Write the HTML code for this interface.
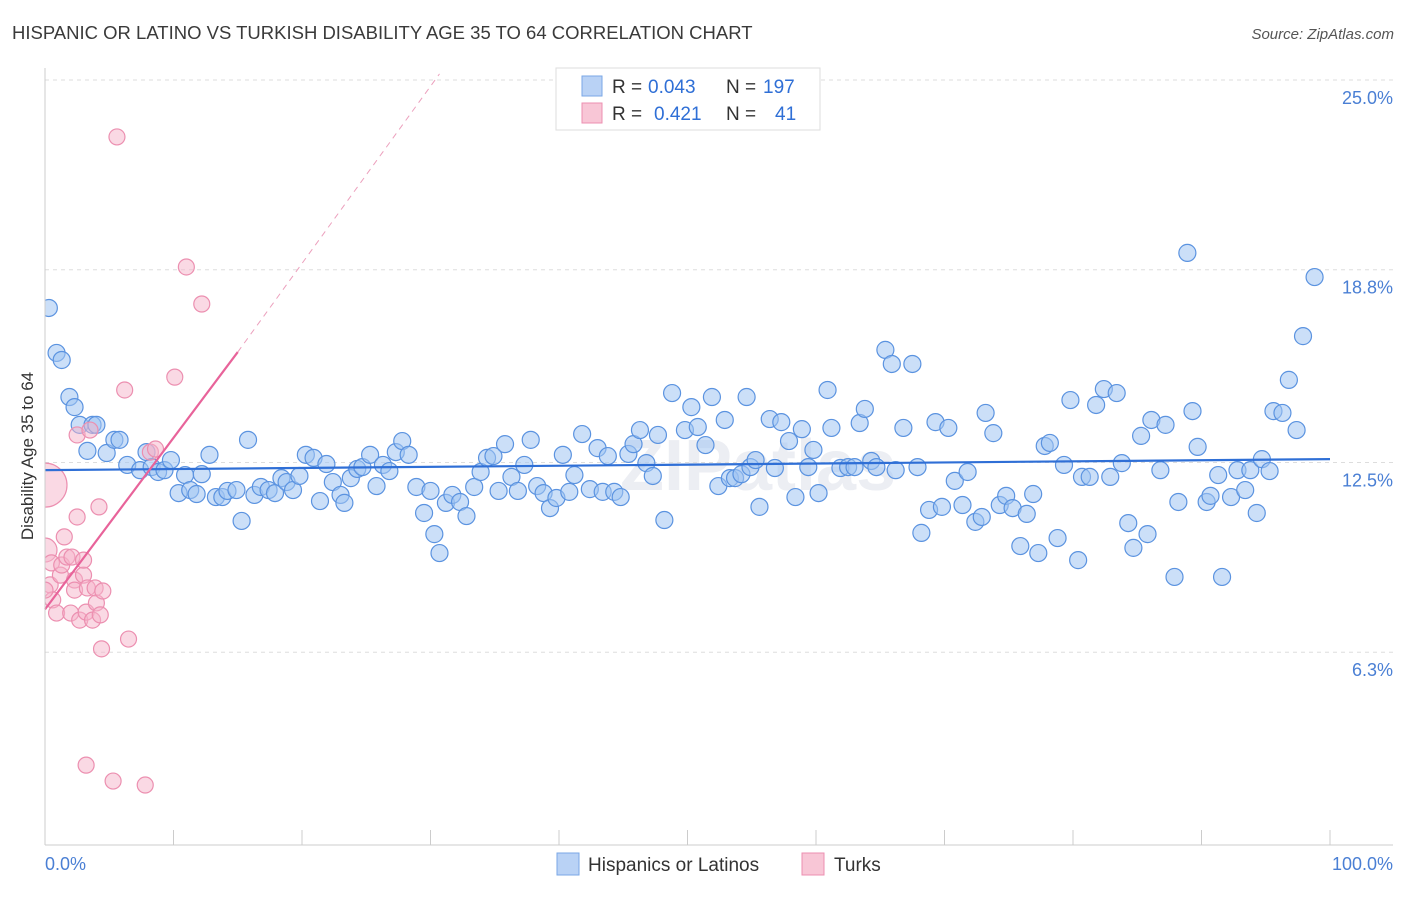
<!DOCTYPE html>
<html><head><meta charset="utf-8"><style>
body{margin:0;background:#fff;font-family:"Liberation Sans",sans-serif;}
svg text{font-family:"Liberation Sans",sans-serif;}
</style></head><body>
<svg id="c" width="1406" height="892" xmlns="http://www.w3.org/2000/svg">
<defs><clipPath id="plot"><rect x="45" y="60" width="1360" height="785"/></clipPath></defs>
<text x="12" y="39" font-size="18.5" fill="#3a3a3a">HISPANIC OR LATINO VS TURKISH DISABILITY AGE 35 TO 64 CORRELATION CHART</text>
<text x="1394" y="39" font-size="15" fill="#555" text-anchor="end" font-style="italic">Source: ZipAtlas.com</text>
<text x="620" y="490" font-size="72" fill="#eceef3" font-weight="bold">ZIPatlas</text>
<g id="grid"></g><g id="pts" clip-path="url(#plot)"></g><g id="trend"></g>
<line x1="45" y1="68" x2="45" y2="845" stroke="#ccc"/>
<line x1="45" y1="845" x2="1393" y2="845" stroke="#ccc"/>
<text transform="translate(33,456) rotate(-90)" font-size="17" fill="#333" text-anchor="middle">Disability Age 35 to 64</text>
<text x="45" y="870" font-size="18" fill="#4a7fd4">0.0%</text>
<text x="1393" y="870" font-size="18" fill="#4a7fd4" text-anchor="end">100.0%</text>
<g font-size="19">
<rect x="556" y="68" width="264" height="62" fill="#fff" stroke="#ddd"/>
<rect x="582" y="76" width="20" height="20" fill="#b9d2f5" stroke="#7aa7e6"/>
<rect x="582" y="103" width="20" height="20" fill="#f8c6d6" stroke="#ec8fb0"/>
<text x="612" y="93" fill="#333">R =</text>
<text x="648" y="93" fill="#2f6fd6">0.043</text>
<text x="726" y="93" fill="#333">N =</text>
<text x="763" y="93" fill="#2f6fd6">197</text>
<text x="612" y="120" fill="#333">R =</text>
<text x="654" y="120" fill="#2f6fd6">0.421</text>
<text x="726" y="120" fill="#333">N =</text>
<text x="775" y="120" fill="#2f6fd6">41</text>
</g>
<g>
<rect x="557" y="853" width="22" height="22" fill="#b9d2f5" stroke="#7aa7e6"/>
<text x="588" y="871" font-size="19" fill="#333">Hispanics or Latinos</text>
<rect x="802" y="853" width="22" height="22" fill="#f8c6d6" stroke="#ec8fb0"/>
<text x="834" y="871" font-size="19" fill="#333">Turks</text>
</g>
</svg>
<script>
const yTicks=[25.0,18.8,12.5,6.3];
const yTickLabels=["25.0%","18.8%","12.5%","6.3%"];
const xTicks=[0,10,20,30,40,50,60,70,80,90,100];
const blueX=[0.3,0.9,1.3,1.9,2.3,2.7,3.3,3.7,4.0,4.8,5.4,5.8,6.4,7.4,7.9,8.3,8.8,9.3,9.8,10.4,10.9,11.3,11.8,12.2,12.8,13.3,13.8,14.2,14.9,15.3,15.8,16.3,16.8,17.4,17.9,18.4,18.8,19.3,19.8,20.3,20.9,21.4,21.9,22.4,23.0,23.3,23.8,24.3,24.7,25.3,25.8,26.3,26.8,27.3,27.8,28.3,28.9,29.5,30.0,30.3,30.7,31.2,31.7,32.3,32.8,33.4,33.9,34.4,34.9,35.3,35.8,36.3,36.8,37.3,37.8,38.3,38.8,39.3,39.8,40.3,40.8,41.2,41.8,42.4,43.0,43.4,43.8,44.3,44.8,45.4,45.8,46.3,46.8,47.3,47.7,48.2,48.8,49.8,50.3,50.8,51.4,51.9,52.4,52.9,53.3,53.7,54.2,54.6,54.9,55.3,55.6,56.4,56.8,57.3,57.9,58.4,58.9,59.4,59.8,60.2,60.9,61.2,61.9,62.5,63.0,63.4,63.8,64.3,64.7,65.4,65.9,66.2,66.8,67.5,67.9,68.2,68.8,69.3,69.8,70.3,70.8,71.4,71.8,72.4,72.9,73.2,73.8,74.3,74.8,75.3,75.9,76.4,76.9,77.3,77.8,78.2,78.8,79.3,79.8,80.4,80.7,81.3,81.8,82.4,82.9,83.4,83.8,84.3,84.7,85.3,85.8,86.1,86.8,87.2,87.9,88.2,88.9,89.3,89.7,90.4,90.7,91.3,91.6,92.3,92.8,93.4,93.8,94.3,94.7,95.3,95.6,96.3,96.8,97.4,97.9,98.8];
const blueY=[17.55,16.08,15.85,14.64,14.31,13.73,12.88,13.73,13.73,12.81,13.24,13.24,12.42,12.25,12.84,12.35,12.19,12.25,12.58,11.5,12.09,11.6,11.47,12.12,12.75,11.37,11.37,11.57,11.6,10.59,13.24,11.44,11.7,11.6,11.5,11.99,11.86,11.6,12.06,12.75,12.65,11.24,12.45,11.86,11.44,11.18,11.99,12.29,12.35,12.75,11.73,12.42,12.22,12.84,13.2,12.75,11.7,10.85,11.57,10.16,9.54,11.18,11.44,11.21,10.75,11.7,12.19,12.65,12.71,11.57,13.1,12.03,11.57,12.42,13.24,11.73,11.5,11.01,11.34,12.75,11.54,12.09,13.43,11.63,12.97,11.54,12.71,11.54,11.37,12.78,13.1,13.56,12.48,12.06,13.4,10.62,14.77,13.56,14.31,13.66,13.07,14.64,11.73,13.89,11.99,11.99,12.12,14.64,12.35,12.58,11.05,13.92,12.32,13.82,13.2,11.37,13.59,12.35,12.91,11.5,14.87,13.63,12.32,12.35,12.35,13.79,14.25,12.55,12.35,16.18,15.72,12.25,13.63,15.72,12.35,10.2,10.95,13.82,11.05,13.63,11.9,11.11,12.19,10.56,10.72,14.12,13.46,11.11,11.41,11.01,9.77,10.82,11.47,9.54,13.04,13.14,10.03,12.42,14.54,9.31,12.03,12.03,14.38,14.9,12.03,14.77,12.48,10.52,9.71,13.37,10.16,13.89,12.25,13.73,8.76,11.21,19.35,14.18,13.01,11.21,11.41,12.09,8.76,11.37,12.25,11.6,12.25,10.85,12.61,12.22,14.18,14.12,15.2,13.56,16.63,18.56];
const pinkX=[0.0,0.0,0.5,0.4,0.6,0.9,1.2,1.3,1.5,1.7,2.0,2.1,2.3,2.3,2.5,2.5,2.7,3.0,3.0,3.2,3.3,3.5,3.7,3.9,4.0,4.2,4.3,4.4,4.5,5.6,6.2,6.5,8.2,8.6,10.1,11.0,12.2,3.2,5.3,7.8,0.0];
const pinkY=[11.76,9.64,9.22,8.5,8.01,7.58,8.82,9.15,10.07,9.41,7.58,9.41,8.66,8.33,10.72,13.4,7.35,8.82,9.31,7.61,8.4,13.56,7.35,8.4,7.91,11.05,7.52,6.41,8.3,23.14,14.87,6.73,12.84,12.94,15.29,18.89,17.68,2.61,2.09,1.96,8.33];
const pinkR=[22,12,8,8,8,8,8,8,8,8,8,8,8,8,8,8,8,8,8,8,8,8,8,8,8,8,8,8,8,8,8,8,8,8,8,8,8,8,8,8,8];
const blueTrend=[12.25,12.61];
const pinkTrend=[7.7,16.11,25.2];
const pinkTrendX=[0,15.0,30.7];
const NS="http://www.w3.org/2000/svg";
const xs=v=>45+v*12.85, ys=v=>845-v*30.6;
function mk(t,a,p){const e=document.createElementNS(NS,t);for(const k in a)e.setAttribute(k,a[k]);p.appendChild(e);return e;}
const g=document.getElementById('grid');
yTicks.forEach((t,i)=>{
 const l=mk('line',{x1:45,x2:1393,y1:ys(t),y2:ys(t),stroke:'#ddd','stroke-dasharray':'4,4'},g);
 
 
 const tx=mk('text',{x:1393,y:ys(t)+24,'font-size':18,fill:'#4a7fd4','text-anchor':'end'},g);
 tx.textContent=yTickLabels[i];
 
 
});
xTicks.forEach(t=>{
 const l=mk('line',{x1:xs(t),x2:xs(t),y1:830,y2:845,stroke:'#ccc'},g);
 
 
});
const p=document.getElementById('pts');
blueX.forEach((x,i)=>{
 const c=mk('circle',{cx:xs(x),cy:ys(blueY[i]),r:8.5,fill:'rgba(160,196,242,0.55)',stroke:'#5b93e0','stroke-width':1.2},p);
 
 
});
pinkX.forEach((x,i)=>{
 const c=mk('circle',{cx:xs(x),cy:ys(pinkY[i]),r:pinkR[i],fill:'rgba(246,180,202,0.5)',stroke:'#ec8fb0','stroke-width':1.2},p);
 
 
});
const tr=document.getElementById('trend');
const bl=mk('line',{x1:xs(0),y1:ys(blueTrend[0]),x2:xs(100),y2:ys(blueTrend[1]),stroke:'#2f6fd6','stroke-width':2.2},tr);


const pl=mk('line',{x1:xs(pinkTrendX[0]),y1:ys(pinkTrend[0]),x2:xs(pinkTrendX[1]),y2:ys(pinkTrend[1]),stroke:'#e8639a','stroke-width':2.2},tr);


const pd=mk('line',{x1:xs(pinkTrendX[1]),y1:ys(pinkTrend[1]),x2:xs(pinkTrendX[2]),y2:ys(pinkTrend[2]),stroke:'#eca0bd','stroke-width':1,'stroke-dasharray':'6,5'},tr);


</script>
</body></html>
